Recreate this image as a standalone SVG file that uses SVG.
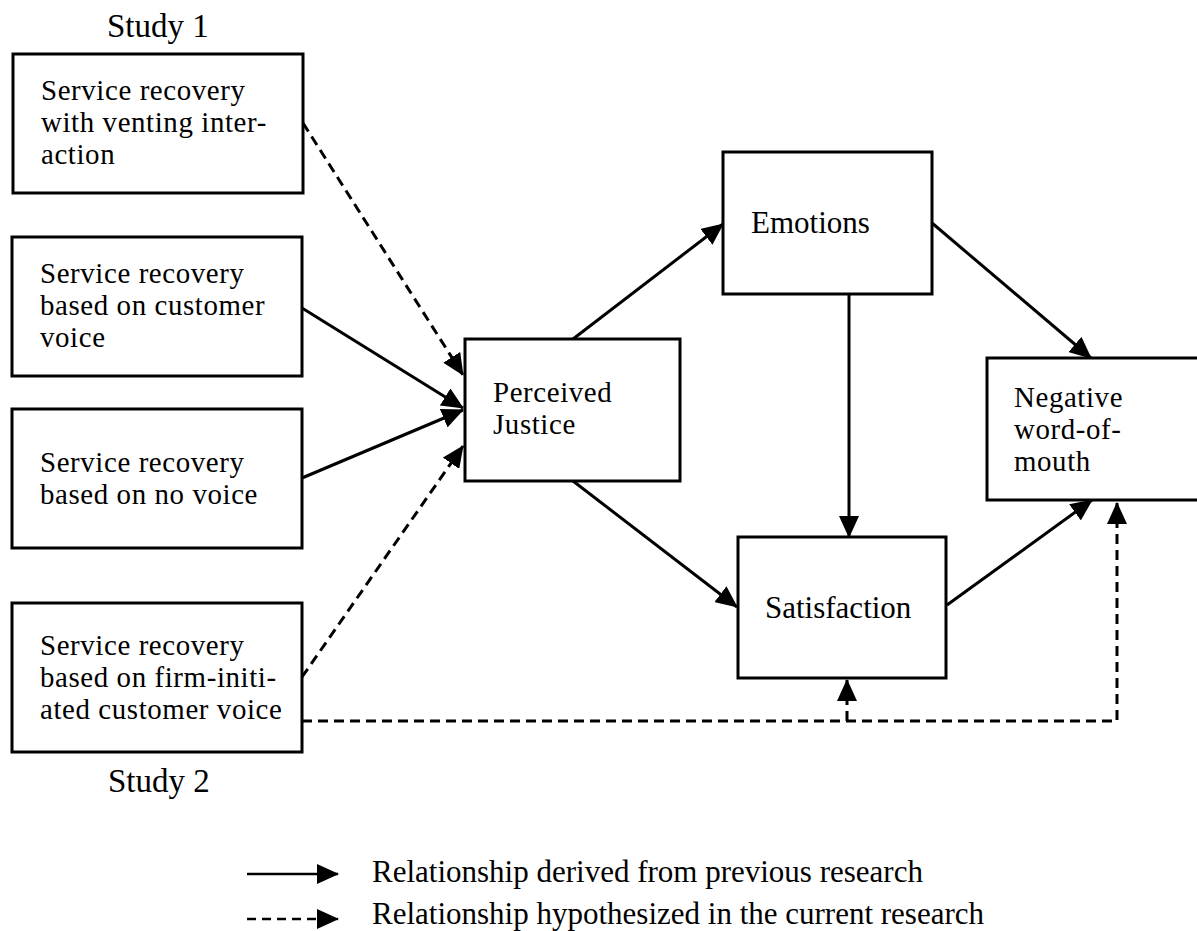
<svg xmlns="http://www.w3.org/2000/svg" width="1197" height="931" viewBox="0 0 1197 931">
<style>
.box{fill:#fff;stroke:#000;stroke-width:3}
.t{font-family:"Liberation Serif","Times New Roman",serif;font-size:31px;fill:#000}
.m{font-family:"Liberation Serif","Times New Roman",serif;font-size:28.9px;letter-spacing:0.6px;fill:#000}
.c{fill:none;stroke:#000;stroke-width:3;marker-end:url(#ah)}
.d{stroke-dasharray:10 6}
</style>
<defs>
<marker id="ah" markerUnits="userSpaceOnUse" markerWidth="22" markerHeight="20" refX="21" refY="10" orient="auto" viewBox="0 0 22 20">
<path d="M0,0 L22,10 L0,20 z" fill="#000"/>
</marker>
</defs>
<rect width="1197" height="931" fill="#fff"/>
<text class="t" x="107" y="37" style="font-size:33px">Study 1</text>
<text class="t" x="108" y="792" style="font-size:33px">Study 2</text>
<g id="connectors">
<path class="c d" d="M303,123 L463,375"/>
<path class="c" d="M302,308 L463,408"/>
<path class="c" d="M302,478 L463,410"/>
<path class="c d" d="M302,677 L463,446"/>
<path class="c" d="M573,339 L723,224"/>
<path class="c" d="M573,481 L737,607"/>
<path class="c" d="M849,294 L849,537"/>
<path class="c" d="M932,223 L1091,358"/>
<path class="c" d="M947,605 L1092,500"/>
<path class="c d" d="M302,721 H1117 V503"/>
<path class="c d" d="M847,721 V680"/>
</g>
<g id="n1"><rect class="box" x="13" y="54" width="290" height="139"/>
<text class="m" x="41" y="100">Service recovery<tspan x="41" dy="32">with venting inter-</tspan><tspan x="41" dy="32">action</tspan></text></g>
<g id="n2"><rect class="box" x="12" y="237" width="290" height="139"/>
<text class="m" x="40" y="283">Service recovery<tspan x="40" dy="32">based on customer</tspan><tspan x="40" dy="32">voice</tspan></text></g>
<g id="n3"><rect class="box" x="12" y="409" width="290" height="139"/>
<text class="m" x="40" y="472">Service recovery<tspan x="40" dy="32">based on no voice</tspan></text></g>
<g id="n4"><rect class="box" x="12" y="603" width="290" height="149"/>
<text class="m" x="40" y="655">Service recovery<tspan x="40" dy="32">based on firm-initi-</tspan><tspan x="40" dy="32">ated customer voice</tspan></text></g>
<g id="pj"><rect class="box" x="465" y="339" width="215" height="142"/>
<text class="m" x="493" y="402">Perceived<tspan x="493" dy="32">Justice</tspan></text></g>
<g id="emo"><rect class="box" x="723" y="152" width="209" height="142"/>
<text class="t" x="751" y="233">Emotions</text></g>
<g id="sat"><rect class="box" x="738" y="537" width="208" height="141"/>
<text class="t" x="765" y="618">Satisfaction</text></g>
<g id="nwom"><rect class="box" x="987" y="358" width="220" height="142"/>
<text class="m" x="1014" y="407">Negative<tspan x="1014" dy="32">word-of-</tspan><tspan x="1014" dy="32">mouth</tspan></text></g>
<g id="legend">
<path class="c" style="stroke-width:2.5" d="M247,874 L338,874"/>
<path class="c d" style="stroke-width:2.5;stroke-dasharray:9 6" d="M247,919 L338,919"/>
<text class="t" x="372" y="882">Relationship derived from previous research</text>
<text class="t" x="372" y="924">Relationship hypothesized in the current research</text>
</g>
</svg>
